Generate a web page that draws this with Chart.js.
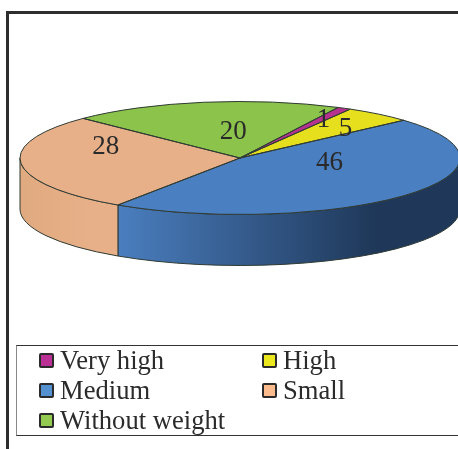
<!DOCTYPE html>
<html>
<head>
<meta charset="utf-8">
<title>Weight categories</title>
<script src="https://cdn.jsdelivr.net/npm/chart.js@4"></script>
<style>
  html, body { margin: 0; padding: 0; background: #fff; overflow: hidden; }
  #page { position: relative; width: 458px; height: 449px; overflow: hidden; }
  #chart { position: absolute; left: 0; top: 0; }
  .frame-top { position: absolute; left: 6px; top: 11px; width: 452px; height: 3px; background: #2e2e2e; }
  .frame-left { position: absolute; left: 6px; top: 11px; width: 3px; height: 438px; background: #2e2e2e; }
  #legend {
    position: absolute; left: 16px; top: 345px; width: 460px; height: 89px;
    border: 1px solid #333; border-left-color: #888;
    font-family: "Liberation Serif", serif; font-size: 26.6px; color: #2b2b2b;
  }
  .item { position: absolute; height: 30px; line-height: 30px; white-space: nowrap; }
  .box {
    position: absolute; left: 0; top: 7px; width: 11px; height: 11px;
    border: 2.5px solid #2b2b2b; border-radius: 2px;
  }
  .item span.txt { position: absolute; left: 21px; top: -1px; }
</style>
</head>
<body>
<div id="page">
  <canvas id="chart" width="480" height="449"></canvas>
  <div class="frame-top"></div>
  <div class="frame-left"></div>
  <div id="legend"></div>
</div>
<script>
const categories = ['Very high', 'High', 'Medium', 'Small', 'Without weight'];
const values = [1, 5, 46, 28, 20];
const topColors = ['#b5308f', '#e6df1e', '#4a7fc1', '#e8b088', '#8cc34a'];
const legendColors = ['#bb3094', '#ece81e', '#5590d0', '#fcbb8c', '#92cb50'];
// left and right colour of the side wall of each slice
const wallLeft = ['#8a2470', '#b0aa16', '#4a7ebf', '#e0aa80', '#6a9538'];
const wallRight = ['#8a2470', '#b0aa16', '#1f3859', '#e8b088', '#6a9538'];
// where each number sits: turn in degrees from the slice middle, reach as part of the radius
const labelTurn = [0, 2, -34, 26, 6];
const labelReach = [0.8, 0.73, 0.41, 0.65, 0.5];

const squash = 0.2568;
const centerY = 158;
const depth = 51;
const outline = '#2f3a33';

function ellipseOf(chart) {
  const arc = chart.getDatasetMeta(0).data[0];
  return { x: arc.x, y: arc.y, rx: arc.outerRadius, ry: arc.outerRadius * squash };
}

const tiltedPie = {
  id: 'tiltedPie',
  beforeDatasetsDraw(chart) {
    const ctx = chart.ctx;
    const e = ellipseOf(chart);
    // side wall, only the part of each slice facing the viewer
    chart.getDatasetMeta(0).data.forEach((arc, i) => {
      let a = arc.startAngle, b = arc.endAngle;
      if (a < 0 && b <= 0) { a += Math.PI * 2; b += Math.PI * 2; }
      a = Math.max(a, 0);
      b = Math.min(b, Math.PI);
      if (b <= a) return;
      const x1 = e.x + e.rx * Math.cos(b);
      const x2 = e.x + e.rx * Math.cos(a);
      const grad = ctx.createLinearGradient(x1, 0, x2, 0);
      grad.addColorStop(0, wallLeft[i]);
      grad.addColorStop(0.75, wallRight[i]);
      grad.addColorStop(1, wallRight[i]);
      ctx.beginPath();
      ctx.ellipse(e.x, centerY, e.rx, e.ry, 0, a, b);
      ctx.ellipse(e.x, centerY + depth, e.rx, e.ry, 0, b, a, true);
      ctx.closePath();
      ctx.fillStyle = grad;
      ctx.fill();
      ctx.strokeStyle = outline;
      ctx.lineWidth = 1;
      ctx.stroke();
    });
    // flatten the pie into an ellipse
    ctx.save();
    ctx.translate(0, centerY);
    ctx.scale(1, squash);
    ctx.translate(0, -e.y);
  },
  afterDatasetsDraw(chart) {
    const ctx = chart.ctx;
    ctx.restore();
    const e = ellipseOf(chart);
    const arcs = chart.getDatasetMeta(0).data;
    arcs.forEach(arc => {
      ctx.beginPath();
      ctx.moveTo(e.x, centerY);
      ctx.ellipse(e.x, centerY, e.rx, e.ry, 0, arc.startAngle, arc.endAngle);
      ctx.closePath();
      ctx.strokeStyle = outline;
      ctx.lineWidth = 1;
      ctx.stroke();
    });
    ctx.font = '27px "Liberation Serif", serif';
    ctx.fillStyle = '#2a2a2a';
    ctx.textAlign = 'center';
    ctx.textBaseline = 'middle';
    arcs.forEach((arc, i) => {
      const mid = (arc.startAngle + arc.endAngle) / 2 + labelTurn[i] * Math.PI / 180;
      const lx = e.x + e.rx * labelReach[i] * Math.cos(mid);
      const ly = centerY + e.ry * labelReach[i] * Math.sin(mid);
      ctx.fillText(String(values[i]), lx, ly + 2);
    });
  }
};

new Chart(document.getElementById('chart'), {
  type: 'pie',
  data: {
    labels: categories,
    datasets: [{
      data: values,
      backgroundColor: topColors,
      borderWidth: 0,
      hoverOffset: 0
    }]
  },
  options: {
    responsive: false,
    animation: false,
    rotation: 26.5,
    layout: { padding: { left: 20, right: 20, top: 4, bottom: 5 } },
    plugins: {
      legend: { display: false },
      tooltip: { enabled: false }
    }
  },
  plugins: [tiltedPie]
});

// two column legend, filled row by row
const legendEl = document.getElementById('legend');
const columnX = [22, 245];
const rowY = [0, 30, 60];
legendEl.innerHTML = categories.map((name, i) => {
  const left = columnX[i % 2];
  const top = rowY[Math.floor(i / 2)];
  return `<div class="item" style="left:${left}px;top:${top}px">
    <span class="box" style="background:${legendColors[i]}"></span><span class="txt">${name}</span>
  </div>`;
}).join('');
</script>
</body>
</html>
